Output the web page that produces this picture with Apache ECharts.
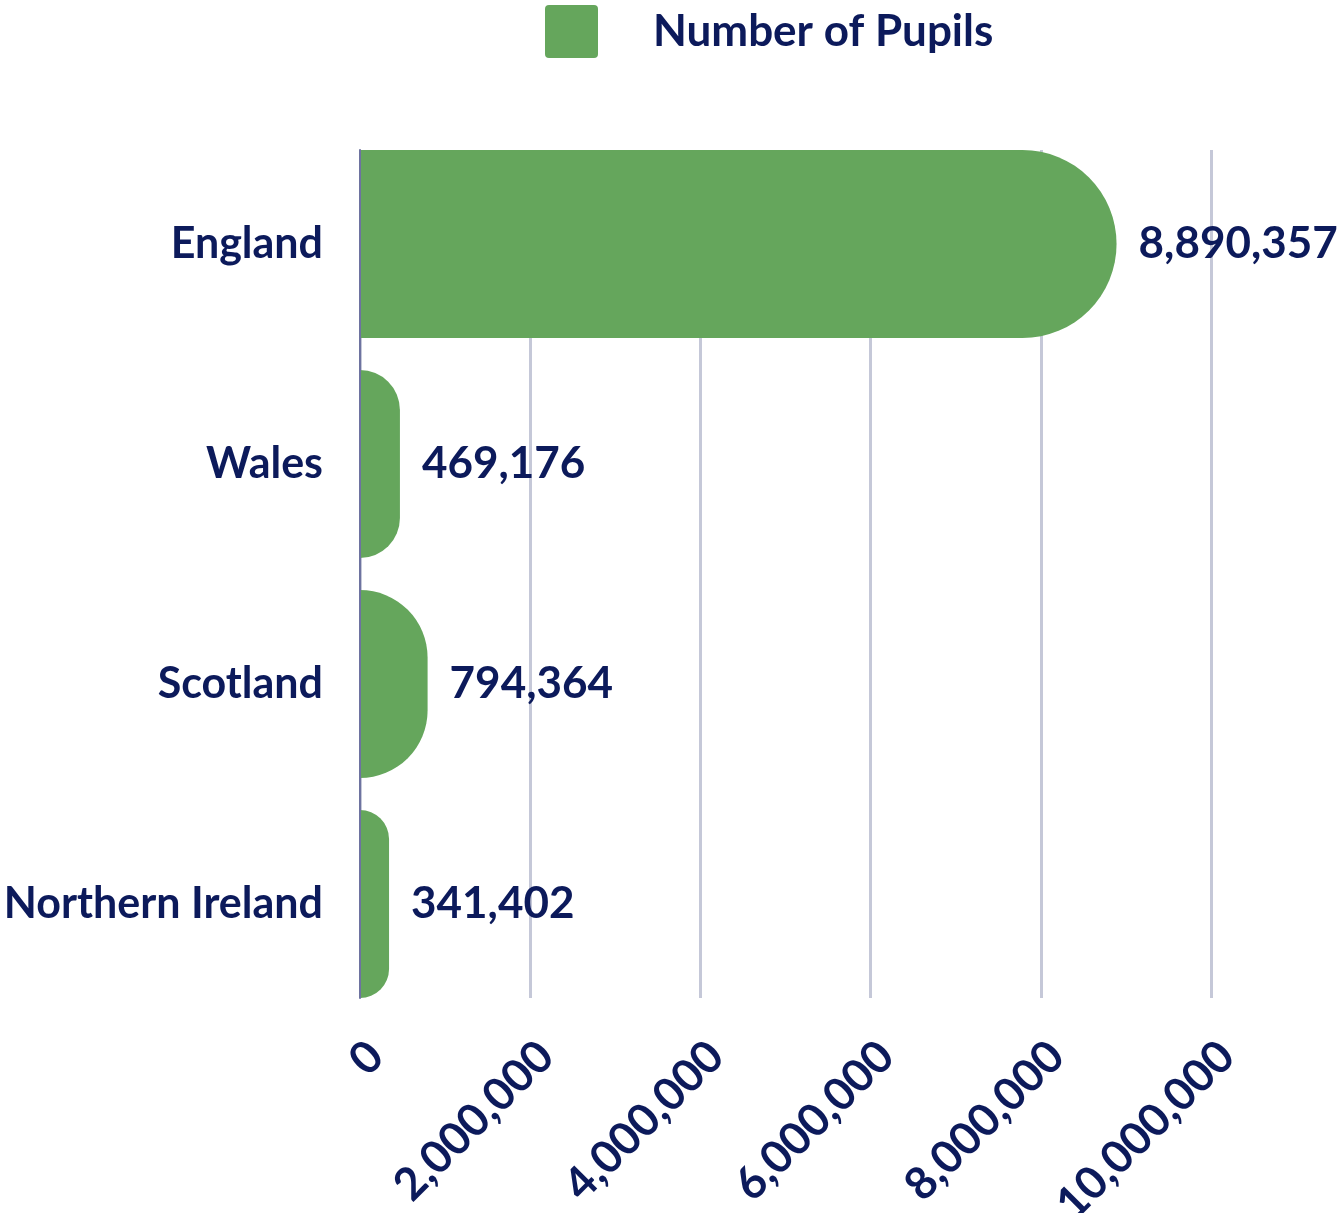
<!DOCTYPE html>
<html>
<head>
<meta charset="utf-8">
<script src="https://cdn.jsdelivr.net/npm/echarts@6/dist/echarts.min.js"></script>
<style>
html,body{margin:0;padding:0;background:#fff;}
#chart{width:1343px;height:1213px;}
</style>
</head>
<body>
<div id="chart"></div>
<script>
const categories = ['England', 'Wales', 'Scotland', 'Northern Ireland'];
const pupils = [8890357, 469176, 794364, 341402];
const seriesName = 'Number of Pupils';
const axisMin = 0, axisMax = 10000000, axisStep = 2000000;

const navy = '#0c1a5b';
const green = '#65a65c';
const font = 'Lato';
const fmt = v => v.toLocaleString('en-US');

const chart = echarts.init(document.getElementById('chart'));
chart.setOption({
  animation: false,
  textStyle: { fontFamily: font, color: navy },
  legend: {
    left: 545, top: 5, padding: 0,
    itemWidth: 53, itemHeight: 53,
    icon: 'path://M4,0 H49 Q53,0 53,4 V49 Q53,53 49,53 H4 Q0,53 0,49 V4 Q0,0 4,0 Z',
    data: [seriesName],
    textStyle: { fontFamily: font, fontWeight: 'bold', fontSize: 44, color: navy, padding: [0, 0, 0, 50] }
  },
  grid: [
    { left: 360, right: 132, top: 134, bottom: 199, outerBoundsMode: 'none' },
    { left: 360, right: 132, top: 150, bottom: 215, outerBoundsMode: 'none' }
  ],
  xAxis: [
    { type: 'value', gridIndex: 0, min: axisMin, max: axisMax, show: false },
    {
      type: 'value', gridIndex: 1, min: axisMin, max: axisMax, interval: axisStep,
      axisLine: { show: false }, axisTick: { show: false },
      splitLine: { show: true, lineStyle: { color: '#c5c8d8', width: 3 } },
      axisLabel: { rotate: 45, margin: 35, verticalAlign: 'top', fontFamily: font, fontWeight: 'bold', fontSize: 45, color: navy, formatter: fmt }
    }
  ],
  yAxis: [
    {
      type: 'category', gridIndex: 0, data: categories, inverse: true,
      axisLine: { show: false }, axisTick: { show: false },
      axisLabel: { margin: 37, fontFamily: font, fontWeight: 'bold', fontSize: 43, color: navy }
    },
    {
      type: 'category', gridIndex: 1, data: categories, inverse: true, z: 5,
      axisLine: { show: true, lineStyle: { color: '#6e73a0', width: 2 } },
      axisTick: { show: false }, axisLabel: { show: false }
    }
  ],
  series: [{
    name: seriesName,
    type: 'bar',
    xAxisIndex: 0, yAxisIndex: 0,
    data: pupils,
    barWidth: 188,
    itemStyle: { color: green, borderRadius: [0, 94, 94, 0] },
    label: {
      show: true, position: 'right', distance: 22,
      fontFamily: font, fontWeight: 'bold', fontSize: 44, color: navy,
      formatter: p => fmt(p.value)
    }
  }]
});
</script>
</body>
</html>
